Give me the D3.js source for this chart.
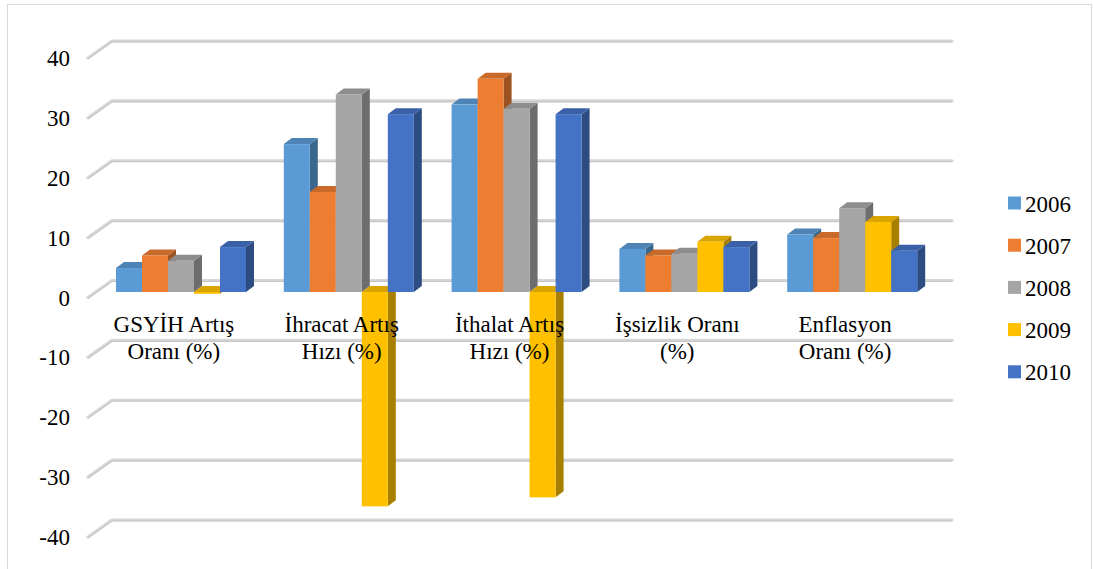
<!DOCTYPE html>
<html>
<head>
<meta charset="utf-8">
<script src="https://cdn.jsdelivr.net/npm/d3@7"></script>
<style>
  html, body { margin: 0; padding: 0; background: #ffffff; }
  svg { display: block; }
</style>
</head>
<body>
<svg id="chart" width="1093" height="569"></svg>
<script>
// Economic indicators of Turkey, 2006–2010
const categories = [
  ["GSYİH Artış", "Oranı (%)"],
  ["İhracat Artış", "Hızı (%)"],
  ["İthalat Artış", "Hızı (%)"],
  ["İşsizlik Oranı", "(%)"],
  ["Enflasyon", "Oranı (%)"]
];
const years = ["2006", "2007", "2008", "2009", "2010"];
const values2006 = [4.0, 24.7, 31.3, 7.2, 9.6];
const values2007 = [6.1, 16.7, 35.6, 6.1, 9.0];
const values2008 = [5.2, 33.0, 30.6, 6.4, 14.0];
const values2009 = [-0.3, -35.8, -34.3, 8.4, 11.7];
const values2010 = [7.5, 29.7, 29.7, 7.5, 6.9];
const series = [values2006, values2007, values2008, values2009, values2010];
const yTicks = [40, 30, 20, 10, 0, -10, -20, -30, -40];
const colors = ["#5B9BD5", "#ED7D31", "#A5A5A5", "#FFC000", "#4472C4"];

const FONT = "'Liberation Serif', 'Times New Roman', serif";

const svg = d3.select("#chart");

// outer frame
svg.append("rect")
  .attr("x", 7.5).attr("y", 4.5)
  .attr("width", 1084).attr("height", 580)
  .attr("fill", "none").attr("stroke", "#d9d9d9").attr("stroke-width", 1);

// back wall value scale
const yWall = d3.scaleLinear().domain([-40, 40]).range([520, 41]);
// depth offsets: wall -> front of floor, and bar front/back faces
const floorDx = -24, floorDy = 17;
const barFrontDy = 11.5;
const depthDx = 8, depthDy = -6;
const wallX0 = 112, wallX1 = 952;

// gridlines on the side wall (diagonal) and back wall
const grid = svg.append("g");
yTicks.forEach(t => {
  const y = yWall(t);
  const pts = [[wallX0 + floorDx, y + floorDy], [wallX0, y], [wallX1, y]];
  const line = d3.line();
  grid.append("path").attr("d", line(pts))
    .attr("fill", "none").attr("stroke", "#d6d6d6").attr("stroke-width", 3.2)
    .attr("stroke-linejoin", "round").attr("stroke-linecap", "round");
  grid.append("path").attr("d", line(pts.map(p => [p[0], p[1] + 0.9])))
    .attr("fill", "none").attr("stroke", "#c2c2c2").attr("stroke-width", 0.9)
    .attr("stroke-linejoin", "round");
});

// y tick labels
svg.append("g").selectAll("text").data(yTicks).join("text")
  .attr("x", 70)
  .attr("y", d => yWall(d) + 25)
  .attr("text-anchor", "end")
  .attr("font-family", FONT)
  .attr("font-size", 23)
  .attr("fill", "#000")
  .text(d => String(d));

// group and bar scales
const x0 = d3.scaleBand().domain(d3.range(categories.length)).range([97, 936]).padding(0);
const x1 = d3.scaleBand().domain(d3.range(years.length))
  .range([19, 19 + 130]).padding(0);
const yBar = v => yWall(v) + barFrontDy;

// bars drawn left to right so each front face covers its neighbour's side
const bars = svg.append("g");
categories.forEach((c, ci) => {
  series.forEach((vals, si) => {
    const v = vals[ci];
    const xl = x0(ci) + x1(si);
    const w = x1.bandwidth();
    const xr = xl + w;
    const yTop = yBar(Math.max(v, 0));
    const yBot = yBar(Math.min(v, 0));
    const base = d3.color(colors[si]);
    const topCol = base.darker(0.45).formatHex();
    const sideCol = base.darker(1.15).formatHex();
    const g = bars.append("g");
    // side face
    g.append("polygon")
      .attr("points", [[xr, yTop], [xr + depthDx, yTop + depthDy], [xr + depthDx, yBot + depthDy], [xr, yBot]].join(" "))
      .attr("fill", sideCol);
    // top face
    g.append("polygon")
      .attr("points", [[xl, yTop], [xl + depthDx, yTop + depthDy], [xr + depthDx, yTop + depthDy], [xr, yTop]].join(" "))
      .attr("fill", topCol);
    // front face
    g.append("rect")
      .attr("x", xl).attr("y", yTop)
      .attr("width", w).attr("height", Math.max(yBot - yTop, 0.8))
      .attr("fill", colors[si]);
  });
});

// category labels
const catG = svg.append("g");
categories.forEach((lines, ci) => {
  const cx = x0(ci) + x0.bandwidth() / 2 - 7;
  const t = catG.append("text")
    .attr("text-anchor", "middle")
    .attr("font-family", FONT)
    .attr("font-size", 23)
    .attr("fill", "#000");
  lines.forEach((ln, li) => {
    t.append("tspan").attr("x", cx).attr("y", 331.5 + li * 27.5).text(ln);
  });
});

// legend
const legend = svg.append("g");
years.forEach((yr, i) => {
  const cy = 203 + i * 42.2;
  legend.append("rect")
    .attr("x", 1008).attr("y", cy - 6.5)
    .attr("width", 13).attr("height", 13)
    .attr("fill", colors[i]);
  legend.append("text")
    .attr("x", 1025).attr("y", cy + 8.5)
    .attr("font-family", FONT)
    .attr("font-size", 23)
    .attr("fill", "#000")
    .text(yr);
});
</script>
</body>
</html>
